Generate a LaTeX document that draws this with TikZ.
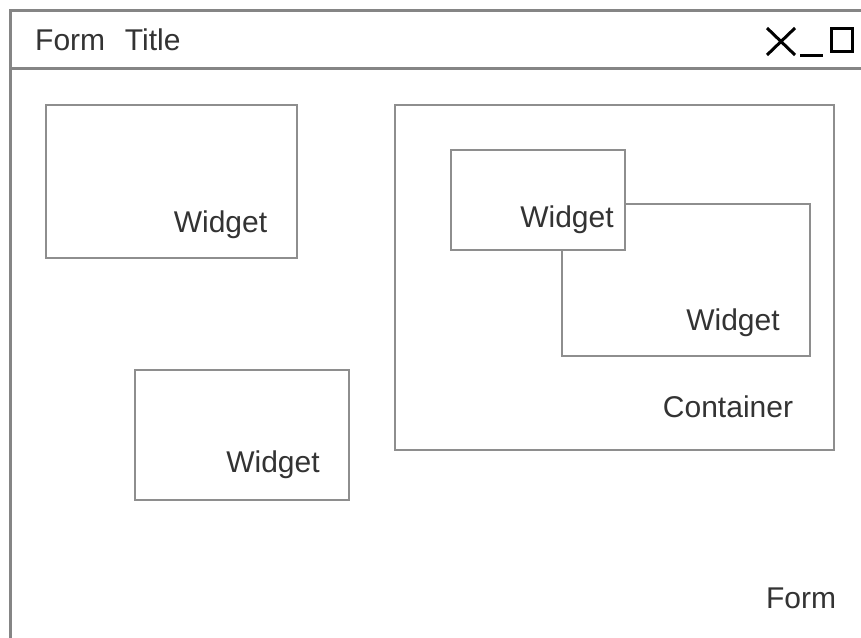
\documentclass[tikz,border=0pt]{standalone}
\usepackage{fontspec}
\setmainfont{Liberation Sans}
\definecolor{framegray}{HTML}{858585}
\definecolor{boxgray}{HTML}{8E8E8E}
\definecolor{ink}{HTML}{333333}
\tikzset{
  frameline/.style={draw=framegray, line width=3pt},
  widgetbox/.style={draw=boxgray, line width=1.5pt, fill=white, anchor=north west, inner sep=0pt},
  label/.style={text=ink, anchor=base, inner sep=0pt, font=\fontsize{30}{34}\selectfont},
  icon/.style={draw=black, line width=3pt}
}
\begin{document}
\begin{tikzpicture}[x=1pt, y=-1pt]
\useasboundingbox (0,0) rectangle (861,637);
\clip (0,0) rectangle (861,637);
\fill[white] (0,0) rectangle (861,637);

% window frame and title bar
\coordinate (ftl) at (10,10);
\draw[frameline] (880,10) -- (ftl) -- (10,660);
\draw[frameline] (10,68) -- (880,68);
\node[label, anchor=base west] (title) at (35,50) {Form\ \ \kern3pt Title};

% window controls: close, minimise, maximise
\coordinate (xa) at (767,28);
\coordinate (xb) at (795,55);
\draw[icon, line width=3pt] (xa) -- (xb) (767,55) -- (795,28);
\draw[icon, line width=3.5pt] (800,55.5) -- (823,55.5);
\draw[icon, line width=3pt] (831.5,28.5) rectangle (852.5,51.5);

% stand-alone widgets
\node[widgetbox, minimum width=251pt, minimum height=153pt] (w1) at (45,104) {};
\node[label] (w1l) at (220.5,232) {Widget};
\node[widgetbox, minimum width=214pt, minimum height=130pt] (w2) at (134,369) {};
\node[label] (w2l) at (273,472) {Widget};

% container with two overlapping widgets
\node[widgetbox, minimum width=439pt, minimum height=345pt] (cont) at (394,104) {};
\node[label] (contl) at (728,417) {Container};
\node[widgetbox, minimum width=248pt, minimum height=152pt] (wb) at (561,203) {};
\node[label] (wbl) at (733,330) {Widget};
\node[widgetbox, minimum width=174pt, minimum height=100pt] (wa) at (450,149) {};
\node[label] (wal) at (567,227) {Widget};

% form caption
\node[label] (forml) at (801,608) {Form};
\end{tikzpicture}
\end{document}
